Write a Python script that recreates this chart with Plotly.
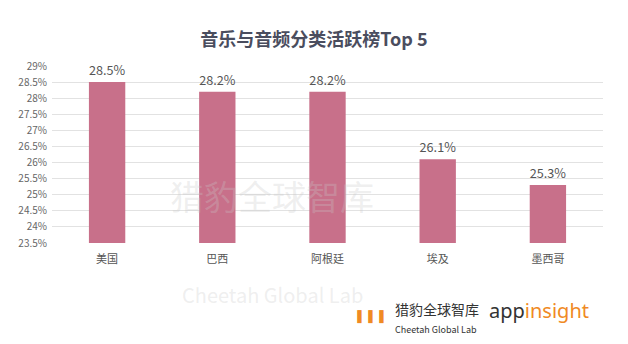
import plotly.graph_objects as go

categories = ["美国", "巴西", "阿根廷", "埃及", "墨西哥"]
values = [28.5, 28.2, 28.2, 26.1, 25.3]
value_labels = ["28.5%", "28.2%", "28.2%", "26.1%", "25.3%"]
tick_vals = [23.5, 24, 24.5, 25, 25.5, 26, 26.5, 27, 27.5, 28, 28.5, 29]
tick_text = ["23.5%", "24%", "24.5%", "25%", "25.5%", "26%", "26.5%", "27%", "27.5%", "28%", "28.5%", "29%"]

FONT = "Noto Sans CJK SC, Noto Sans, sans-serif"

fig = go.Figure(go.Bar(
    x=categories, y=values,
    marker=dict(color="#C8708A", line=dict(width=0)),
    text=value_labels, textposition="outside",
    textfont=dict(size=13, color="#555555", family=FONT),
    cliponaxis=False,
))

fig.update_layout(
    width=628, height=344,
    margin=dict(l=52, r=25, t=66, b=101),
    paper_bgcolor="white", plot_bgcolor="white",
    font=dict(family=FONT, color="#555555"),
    title=dict(text="<b>音乐与音频分类活跃榜Top 5</b>", x=0.5, xanchor="center", y=0.885, yanchor="middle",
               font=dict(size=18, color="#4a4d5e", family=FONT)),
    bargap=0.67,
    showlegend=False,
    xaxis=dict(showgrid=False, showline=False, ticks="", tickfont=dict(size=11, color="#555555"),
               ticklabelstandoff=8),
    yaxis=dict(range=[23.5, 29], tickvals=tick_vals, ticktext=tick_text, showgrid=True,
               gridcolor="#e2e2e2", gridwidth=1, zeroline=False, showline=False,
               tickfont=dict(size=10, color="#666666"), ticklabelstandoff=4),
)

# faint watermark
fig.add_annotation(text="猎豹全球智库", x=0.4, xref="paper", y=0.12, yref="paper", showarrow=False,
                   font=dict(size=34, color="rgba(200,200,200,0.3)", family=FONT))
fig.add_annotation(text="Cheetah Global Lab", x=0.4, xref="paper", y=-0.29, yref="paper", showarrow=False,
                   yanchor="middle", font=dict(size=20, color="rgba(200,200,200,0.3)", family=FONT))
# footer logos
fig.add_annotation(text="❚❚❚", x=0.612, xref="paper", y=-0.47, yref="paper", showarrow=False,
                   xanchor="right", font=dict(size=13, color="#F08A24"))
fig.add_annotation(text="猎豹全球智库", x=0.618, xref="paper", y=-0.44, yref="paper", showarrow=False,
                   xanchor="left", font=dict(size=14, color="#333333", family=FONT))
fig.add_annotation(text="Cheetah Global Lab", x=0.618, xref="paper", y=-0.535, yref="paper", showarrow=False,
                   xanchor="left", font=dict(size=9, color="#333333", family=FONT))
fig.add_annotation(text="<span style='color:#333333'>app</span><span style='color:#F08A24'>insight</span>",
                   x=0.79, xref="paper", y=-0.47, yref="paper", showarrow=False, xanchor="left",
                   font=dict(size=20, family="Noto Sans, sans-serif"))

fig.write_html("out.html")
